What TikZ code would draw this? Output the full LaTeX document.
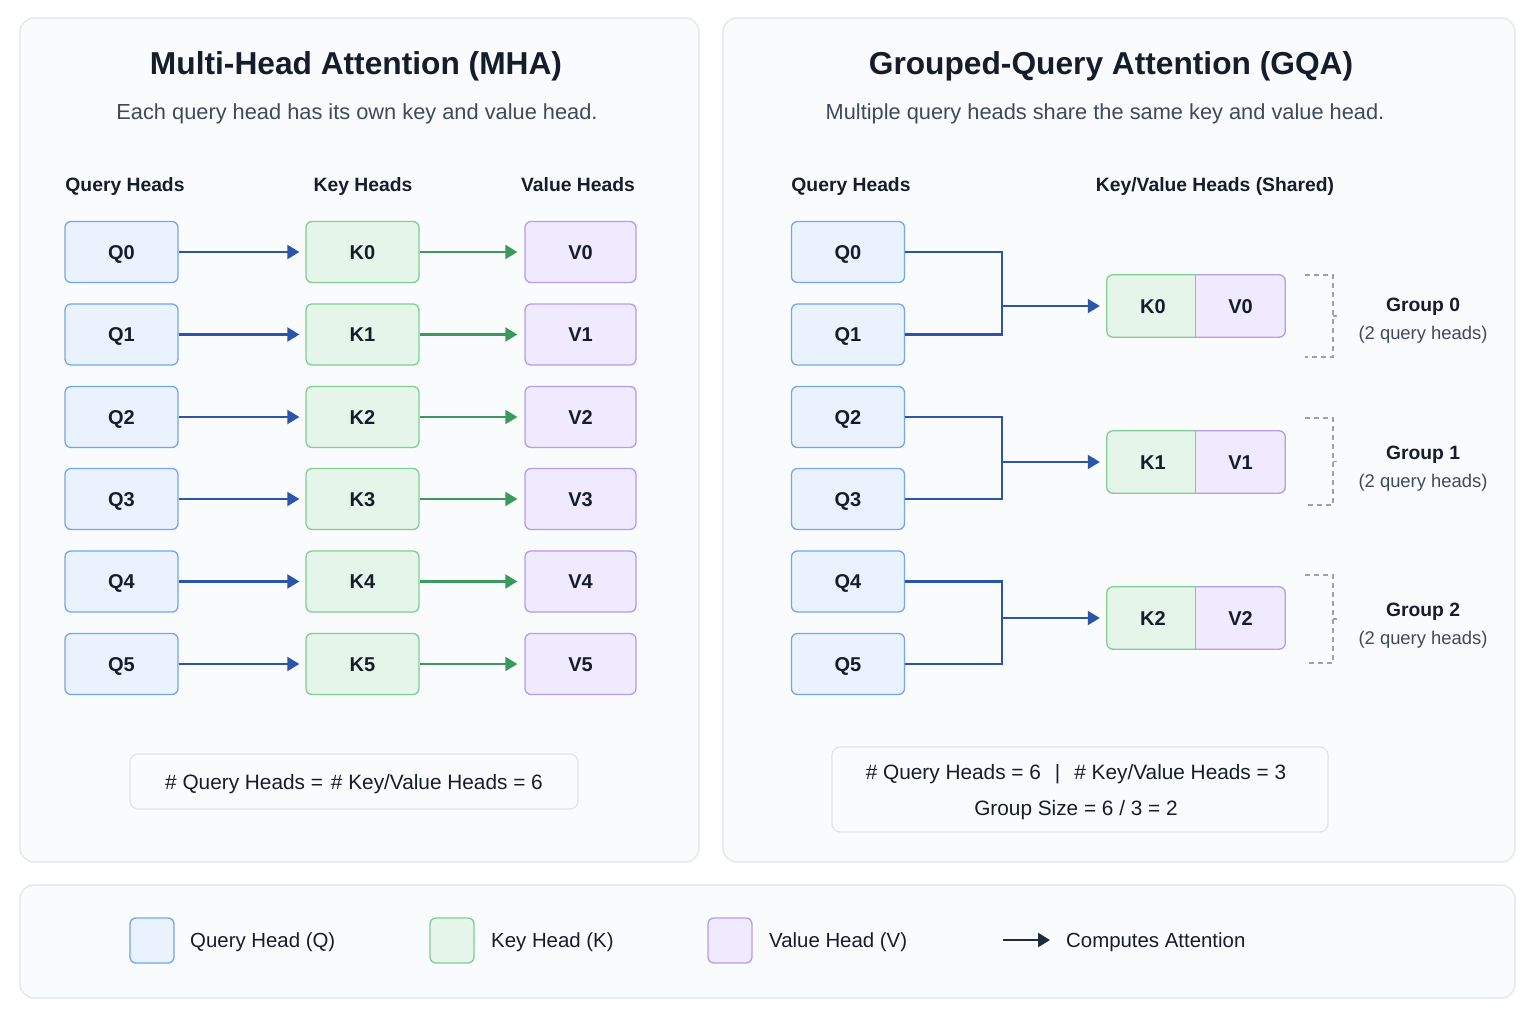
\documentclass[tikz,border=0pt]{standalone}
\usepackage{fontspec}
\setmainfont{Liberation Sans}
\usetikzlibrary{arrows.meta}
\definecolor{txt}{HTML}{151D2C}
\definecolor{subtxt}{HTML}{3E4A5C}
\definecolor{panelfill}{HTML}{FAFBFC}
\definecolor{panelborder}{HTML}{E0E4E9}
\definecolor{qfill}{HTML}{EAF2FD}
\definecolor{qborder}{HTML}{72A6F0}
\definecolor{kfill}{HTML}{E6F5E9}
\definecolor{kborder}{HTML}{7FCF93}
\definecolor{vfill}{HTML}{EFEAFD}
\definecolor{vborder}{HTML}{B49CF0}
\definecolor{bluearrow}{HTML}{2A55A8}
\definecolor{greenarrow}{HTML}{3A9A5C}
\definecolor{navy}{HTML}{1E2A3E}
\definecolor{dashgray}{HTML}{9AA3AE}
\newcommand\fsz[2]{\fontsize{#1}{#2}\selectfont}
\begin{document}
\begin{tikzpicture}[x=1pt,y=-1pt,
  panel/.style={draw=panelborder, fill=panelfill, line width=1.2pt, rounded corners=14pt},
  headbox/.style={rounded corners=6pt, line width=1.3pt, minimum width=113pt, minimum height=61pt, inner sep=0pt, text height=14.4pt, text depth=0pt, font=\fsz{20}{24}\bfseries, text=txt},
  qbox/.style={headbox, draw=qborder, fill=qfill},
  kbox/.style={headbox, draw=kborder, fill=kfill},
  vbox/.style={headbox, draw=vborder, fill=vfill, minimum width=111pt},
  halfbox/.style={minimum width=89pt, minimum height=62pt, inner sep=0pt, text height=14.4pt, text depth=0pt, font=\fsz{20}{24}\bfseries, text=txt},
  titletxt/.style={font=\fsz{31.7}{36}\bfseries, text=txt},
  subtitletxt/.style={font=\fsz{21.8}{24}, text=subtxt},
  coltxt/.style={font=\fsz{19.3}{22}\bfseries, text=txt, text height=14pt, text depth=4pt},
  barrow/.style={draw=bluearrow, line width=2.1pt, -{Triangle[length=12pt,width=14pt]}, shorten >=6pt},
  garrow/.style={draw=greenarrow, line width=2.1pt, -{Triangle[length=12pt,width=14pt]}, shorten >=7pt},
  bline/.style={draw=bluearrow, line width=2.1pt},
  bracket/.style={draw=dashgray, line width=1.3pt, dash pattern=on 5pt off 4pt},
  sumbox/.style={draw=panelborder, fill=panelfill, line width=1.2pt, rounded corners=8pt, font=\fsz{20.8}{36}, text=txt, align=center},
  grptitle/.style={font=\fsz{19.3}{22}\bfseries, text=txt},
  grpsub/.style={font=\fsz{18.4}{22}, text=subtxt},
  legtxt/.style={font=\fsz{20.4}{22}, text=txt, anchor=west, inner sep=0pt},
  swatch/.style={rounded corners=6pt, line width=1.3pt, minimum width=44pt, minimum height=45pt, inner sep=0pt}
]
\useasboundingbox[fill=white] (0,0) rectangle (1536,1024);

% panels
\draw[panel] (20,18) rectangle (699,862);
\draw[panel] (723,18) rectangle (1515,862);
\draw[panel] (20,885) rectangle (1515,998);

% ---------- MHA ----------
\node[titletxt] (mhatitle) at (356,66.5) {Multi-Head Attention (MHA)};
\node[subtitletxt] (mhasub) at (357,113.5) {Each query head has its own key and value head.};
\node[coltxt] (mhaq) at (125,186.5) {Query Heads};
\node[coltxt] (mhak) at (363,186.5) {Key Heads};
\node[coltxt] (mhav) at (578,186.5) {Value Heads};

\foreach \i/\y in {0/252,1/334.5,2/417,3/499,4/581.5,5/664}{
  \node[qbox] (q\i) at (121.5,\y) {Q\i};
  \node[kbox] (k\i) at (362.5,\y) {K\i};
  \node[vbox] (v\i) at (580.5,\y) {V\i};
  \draw[barrow] (q\i.east) -- (k\i.west);
  \draw[garrow] (k\i.east) -- (v\i.west);
}

\node[sumbox, minimum width=448pt, minimum height=55pt] (mhasum) at (354,781.5) {};
\node[font=\fsz{20.8}{24}, text=txt] (mhasumtxt) at (354,784) {\# Query Heads =\hspace{8pt}\# Key/Value Heads = 6};

% ---------- GQA ----------
\node[titletxt] (gqatitle) at (1111,66.5) {Grouped-Query Attention (GQA)};
\node[subtitletxt] (gqasub) at (1105,113.5) {Multiple query heads share the same key and value head.};
\node[coltxt] (gqaq) at (851,186.5) {Query Heads};
\node[coltxt] (gqakv) at (1215,186.5) {Key/Value Heads (Shared)};

\foreach \i/\y in {0/252,1/334.5,2/417,3/499,4/581.5,5/664}{
  \node[qbox] (gq\i) at (848,\y) {Q\i};
}

\foreach \g/\y/\a/\b in {0/306/0/1,1/462/2/3,2/618/4/5}{
  \node[halfbox] (gk\g) at (1151.5,\y) {};
  \node[halfbox] (gv\g) at (1240.5,\y) {};
  \begin{scope}
    \clip ([shift={(-4,-4)}]gk\g.north west) rectangle ([shift={(0,4)}]gk\g.south east);
    \draw[draw=kborder, fill=kfill, line width=1.3pt, rounded corners=6pt]
      (gk\g.north west) rectangle ([shift={(20,0)}]gk\g.south east);
  \end{scope}
  \begin{scope}
    \clip ([shift={(0,-4)}]gv\g.north west) rectangle ([shift={(4,4)}]gv\g.south east);
    \draw[draw=vborder, fill=vfill, line width=1.3pt, rounded corners=6pt]
      ([shift={(-20,0)}]gv\g.north west) rectangle (gv\g.south east);
  \end{scope}
  \draw[draw=vborder, line width=1.2pt] (gv\g.north west) -- (gv\g.south west);
  \node[halfbox] at ([shift={(1.5,0)}]gk\g.center) {K\g};
  \node[halfbox] at (gv\g.center) {V\g};
  \coordinate (j\g) at (1002,\y);
  \draw[bline, line join=miter] (gq\a.east) -| (j\g) |- (gq\b.east);
  \draw[barrow, shorten >=7pt] (j\g) -- (gk\g.west);
}

% dashed brackets
\foreach \t/\b in {275/357,418/505,575/663}{
  \draw[bracket] (1305,\t) -- (1333,\t) -- (1333,\b) -- (1305,\b);
  \draw[draw=dashgray, line width=1.2pt] (1333,{(\t+\b)/2}) -- (1337,{(\t+\b)/2});
}

\node[grptitle] (g0t) at (1423,306.5) {Group 0};
\node[grpsub] (g0s) at (1423,334.5) {(2 query heads)};
\node[grptitle] (g1t) at (1423,454.5) {Group 1};
\node[grpsub] (g1s) at (1423,482.5) {(2 query heads)};
\node[grptitle] (g2t) at (1423,611.5) {Group 2};
\node[grpsub] (g2s) at (1423,639.5) {(2 query heads)};

\node[sumbox, minimum width=496pt, minimum height=85pt] (gqasum) at (1080,789.5) {};
\node[font=\fsz{20.8}{36}, text=txt, align=center] (gqasumtxt) at (1076,792)
  {\# Query Heads = 6\hspace{14pt}|\hspace{14pt}\# Key/Value Heads = 3\\Group Size = 6 / 3 = 2};

% ---------- Legend ----------
\node[swatch, draw=qborder, fill=qfill] (sq) at (152,940.5) {};
\node[legtxt] (lq) at (190,942) {Query Head (Q)};
\node[swatch, draw=kborder, fill=kfill] (sk) at (452,940.5) {};
\node[legtxt] (lk) at (491,942) {Key Head (K)};
\node[swatch, draw=vborder, fill=vfill] (sv) at (730,940.5) {};
\node[legtxt] (lv) at (769,942) {Value Head (V)};
\coordinate (la) at (1003,940);
\node[legtxt] (lc) at (1066,942) {Computes Attention};
\draw[draw=navy, line width=2.4pt, -{Triangle[length=12pt,width=14pt]}, shorten >=16pt] (la) -- (lc.west |- la);

\end{tikzpicture}
\end{document}
